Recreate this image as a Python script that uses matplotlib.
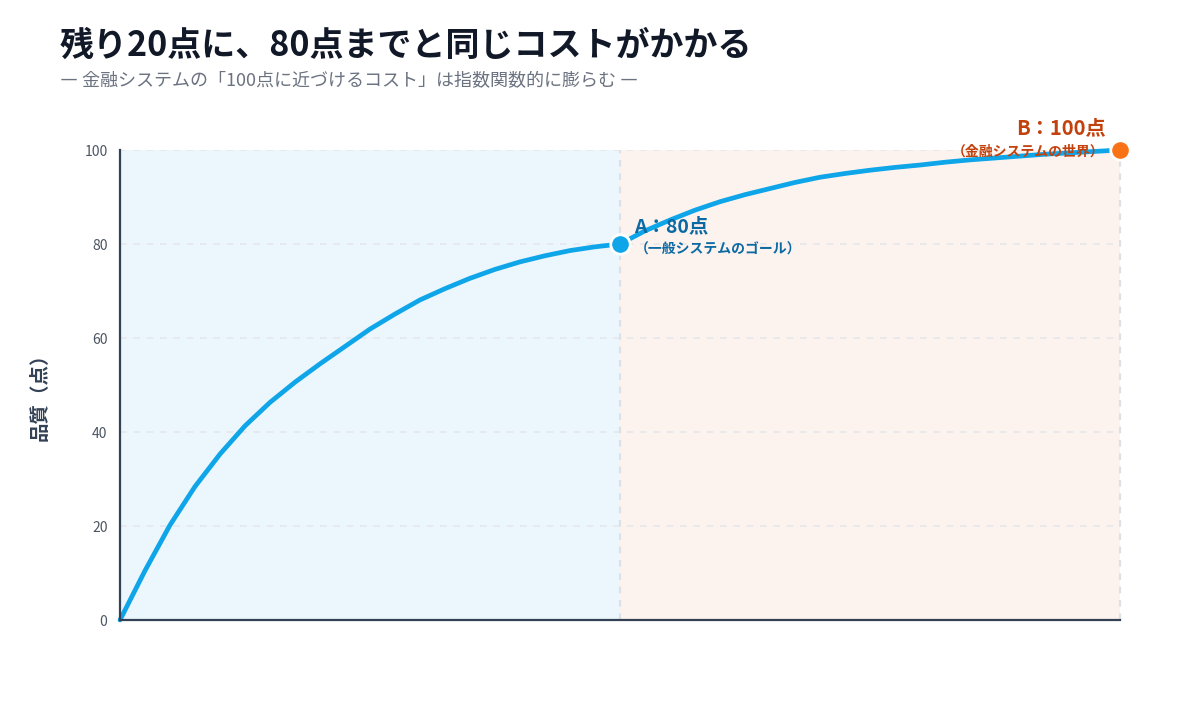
import matplotlib
matplotlib.use("Agg")
import matplotlib.pyplot as plt

plt.rcParams['font.family'] = ['Noto Sans CJK JP', 'DejaVu Sans']

# values (cost on x, quality on y)
cost = [0, 2.5, 5, 7.5, 10, 12.5, 15, 17.5, 20, 22.5, 25, 27.5, 30, 32.5, 35,
        37.5, 40, 42.5, 45, 47.5, 50,
        52.5, 55, 57.5, 60, 62.5, 65, 67.5, 70, 72.5, 75, 77.5, 80, 82.5, 85,
        87.5, 90, 92.5, 95, 97.5, 100]
quality = [0, 10.5, 20.2, 28.4, 35.3, 41.3, 46.3, 50.6, 54.5, 58.2, 61.9, 65.1, 68.1, 70.5, 72.7,
           74.6, 76.2, 77.5, 78.6, 79.4, 80,
           82.8, 85.1, 87.2, 89, 90.5, 91.8, 93.1, 94.2, 95, 95.7, 96.3, 96.8, 97.4, 97.9,
           98.3, 98.7, 99.1, 99.4, 99.7, 100]
point_a = (50, 80)
point_b = (100, 100)
y_ticks = [0, 20, 40, 60, 80, 100]

title = "残り20点に、80点までと同じコストがかかる"
subtitle = "― 金融システムの「100点に近づけるコスト」は指数関数的に膨らむ ―"
ylabel = "品質（点）"
label_a = "A：80点"
note_a = "（一般システムのゴール）"
label_b = "B：100点"
note_b = "（金融システムの世界）"

blue = '#0EA5E9'
orange = '#F97316'
dark_blue = '#0B69A3'
dark_orange = '#C2410C'


def main():
    fig = plt.figure(figsize=(12, 7.2), dpi=100)
    ax = fig.add_axes([120 / 1200, 100 / 720, 1000 / 1200, 470 / 720])

    ax.axvspan(0, point_a[0], color='#EBF6FD', zorder=0, lw=0)
    ax.axvspan(point_a[0], point_b[0], color='#FDF3EE', zorder=0, lw=0)

    for t in y_ticks[1:]:
        ax.axhline(t, color='#E5E7EB', lw=1.2, ls=(0, (4, 4)), zorder=1)
    ax.axvline(point_a[0], color='#DDE1E6', lw=1.6, ls=(0, (3, 3)), zorder=1)
    ax.axvline(point_b[0], color='#DDE1E6', lw=1.6, ls=(0, (3, 3)), zorder=1,
               clip_on=False)

    ax.plot(cost, quality, color=blue, lw=3.4, solid_capstyle='round',
            solid_joinstyle='round', zorder=3, clip_on=False)

    ax.plot(*point_a, 'o', ms=14, color=blue, mec='white', mew=2, zorder=4, clip_on=False)
    ax.plot(*point_b, 'o', ms=14, color=orange, mec='white', mew=2, zorder=4, clip_on=False)

    ax.annotate(label_a, xy=point_a, xytext=(14, 17), textcoords='offset pixels',
                ha='left', va='center', fontsize=14, fontweight='bold',
                color=dark_blue, zorder=5)
    ax.annotate(note_a, xy=point_a, xytext=(15, -6), textcoords='offset pixels',
                ha='left', va='center', fontsize=10, fontweight='bold',
                color=dark_blue, zorder=5)
    ax.annotate(label_b, xy=point_b, xytext=(-14, 22), textcoords='offset pixels',
                ha='right', va='center', fontsize=14.5, fontweight='bold',
                color=dark_orange, zorder=5, annotation_clip=False)
    ax.annotate(note_b, xy=point_b, xytext=(-16, -2), textcoords='offset pixels',
                ha='right', va='center', fontsize=10, fontweight='bold',
                color=dark_orange, zorder=5, annotation_clip=False)

    ax.set_xlim(0, 100)
    ax.set_ylim(0, 100)
    ax.set_yticks(y_ticks)
    ax.set_xticks([])
    ax.tick_params(axis='y', length=0, pad=9, labelsize=10, labelcolor='#4B5563')
    for s in ['top', 'right']:
        ax.spines[s].set_visible(False)
    for s in ['left', 'bottom']:
        ax.spines[s].set_color('#334155')
        ax.spines[s].set_linewidth(1.6)
        ax.spines[s].set_zorder(6)

    fig.text(40 / 1200, 1 - 392 / 720, ylabel, rotation=90, ha='center', va='center',
             fontsize=14, fontweight='bold', color='#334155')
    fig.text(60 / 1200, 1 - 45 / 720, title, ha='left', va='center',
             fontsize=24.5, fontweight='bold', color='#111827')
    fig.text(60 / 1200, 1 - 81 / 720, subtitle, ha='left', va='center',
             fontsize=13, color='#6B7280')

    fig.savefig('out.png', dpi=100)


if __name__ == '__main__':
    main()
